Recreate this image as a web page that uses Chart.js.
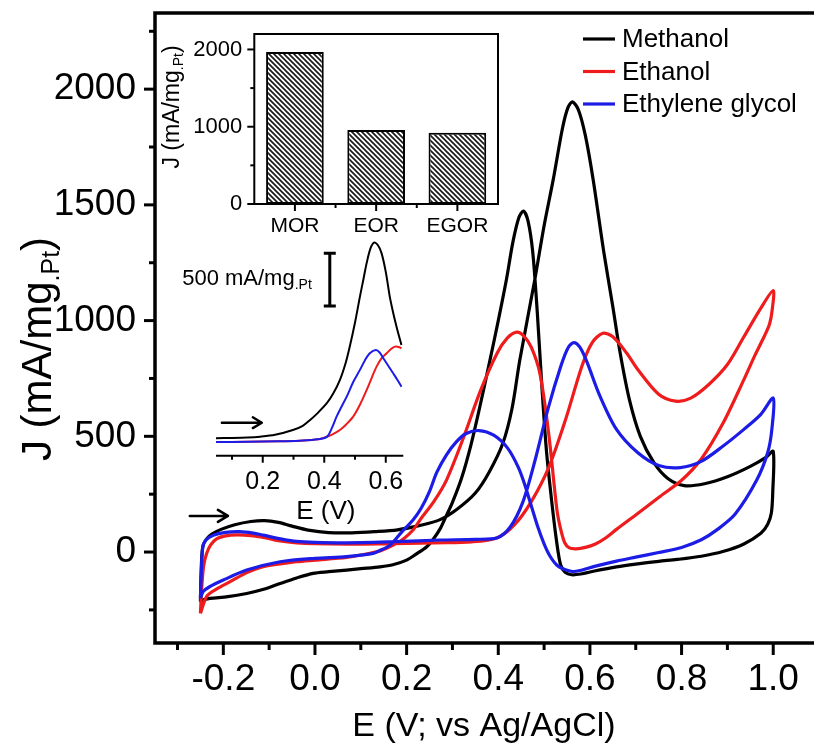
<!DOCTYPE html>
<html>
<head>
<meta charset="utf-8">
<script src="https://cdn.jsdelivr.net/npm/chart.js@4.4.0/dist/chart.umd.min.js"></script>
<style>
  html, body { margin: 0; padding: 0; background: #fff; }
  #wrap { position: relative; width: 814px; height: 754px; overflow: hidden; background: #fff; }
  canvas { position: absolute; }
  #main { left: 0; top: 0; }
  #bars { left: 150px; top: 20px; }
  #onset { left: 170px; top: 230px; }
</style>
</head>
<body>
<div id="wrap">
  <canvas id="main" width="814" height="754"></canvas>
  <canvas id="bars" width="360" height="230"></canvas>
  <canvas id="onset" width="250" height="300"></canvas>
</div>
<script>
// ---------- cyclic voltammograms (E in V vs Ag/AgCl, J in mA/mg Pt) ----------
const methanolE = [
  -0.250, -0.249, -0.247, -0.244, -0.236, -0.225, -0.205, -0.175, -0.140, -0.110, -0.080, -0.050, -0.015,
  0.030, 0.080, 0.130, 0.180, 0.229, 0.273, 0.310, 0.350, 0.380, 0.410, 0.430, 0.447, 0.480, 0.500, 0.520,
  0.540, 0.552, 0.562, 0.575, 0.590, 0.607, 0.630, 0.650, 0.666, 0.686, 0.710, 0.740, 0.770, 0.806, 0.850,
  0.900, 0.950, 0.985, 1.000,
  0.999, 0.996, 0.988, 0.973, 0.936, 0.890, 0.843, 0.790, 0.750, 0.700, 0.658, 0.610, 0.580, 0.560, 0.546,
  0.536, 0.527, 0.516, 0.505, 0.495, 0.485, 0.475, 0.465, 0.455, 0.445, 0.432, 0.418, 0.400, 0.382, 0.360,
  0.340, 0.320, 0.300, 0.285, 0.273, 0.258, 0.244, 0.220, 0.200, 0.170, 0.142, 0.100, 0.069, 0.030, -0.004,
  -0.040, -0.076, -0.110, -0.149, -0.190, -0.229, -0.245, -0.250
];
const methanolJ = [
  -215, -120, -20, 30, 58, 78, 98, 118, 132, 136, 128, 112, 95,
  84, 83, 88, 96, 115, 140, 185, 255, 345, 470, 620, 830, 1180, 1410, 1610,
  1830, 1920, 1945, 1910, 1800, 1610, 1300, 1060, 860, 660, 500, 385, 318, 287, 295,
  325, 370, 410, 435,
  260, 170, 120, 81, 35, 2, -18, -32, -40, -52, -64, -82, -95, -98, -88,
  -55, 50, 230, 440, 720, 1040, 1300, 1430, 1473, 1445, 1340, 1180, 1000, 830, 630,
  460, 320, 215, 150, 100, 55, 23, -10, -35, -55, -64, -72, -78, -85, -92,
  -112, -136, -160, -179, -193, -200, -207, -215
];

const ethanolE = [
  -0.250, -0.247, -0.243, -0.237, -0.228, -0.214, -0.195, -0.170, -0.140, -0.110, -0.076, -0.040, 0.000,
  0.070, 0.142, 0.200, 0.260, 0.342, 0.398, 0.435, 0.472, 0.510, 0.546, 0.583, 0.605, 0.628, 0.650, 0.680,
  0.704, 0.750, 0.787, 0.820, 0.860, 0.900, 0.936, 0.973, 1.000,
  0.998, 0.992, 0.980, 0.960, 0.936, 0.890, 0.843, 0.800, 0.750, 0.700, 0.658, 0.635, 0.612, 0.590, 0.570,
  0.555, 0.545, 0.536, 0.528, 0.510, 0.491, 0.472, 0.455, 0.440, 0.420, 0.398, 0.361, 0.324, 0.287, 0.260,
  0.229, 0.214, 0.195, 0.178, 0.142, 0.100, 0.069, 0.000, -0.040, -0.113, -0.150, -0.185, -0.215, -0.236, -0.250
];
const ethanolJ = [
  -265, -150, -60, -10, 30, 58, 70, 74, 71, 62, 48, 40, 36,
  34, 35, 37, 40, 44, 62, 117, 218, 365, 567, 806, 905, 945, 930, 860,
  790, 682, 652, 665, 725, 810, 930, 1054, 1130,
  1050, 985, 930, 850, 745, 555, 402, 310, 236, 160, 98, 62, 35, 20, 14,
  18, 40, 100, 182, 512, 770, 885, 935, 950, 925, 861, 696, 494, 311, 220,
  138, 95, 60, 38, 5, -13, -23, -35, -42, -63, -90, -128, -160, -190, -265
];

const glycolE = [
  -0.250, -0.248, -0.245, -0.238, -0.222, -0.195, -0.164, -0.135, -0.113, -0.070, -0.040, 0.000, 0.069,
  0.178, 0.273, 0.350, 0.398, 0.426, 0.454, 0.481, 0.509, 0.537, 0.553, 0.565, 0.578, 0.593, 0.621, 0.658,
  0.704, 0.750, 0.797, 0.843, 0.890, 0.936, 0.973, 1.000,
  0.997, 0.988, 0.964, 0.917, 0.880, 0.843, 0.800, 0.750, 0.700, 0.658, 0.610, 0.578, 0.562, 0.545, 0.528,
  0.512, 0.500, 0.486, 0.472, 0.458, 0.444, 0.420, 0.390, 0.358, 0.330, 0.308, 0.287, 0.266, 0.250, 0.232,
  0.214, 0.193, 0.164, 0.140, 0.127, 0.069, 0.000, -0.076, -0.149, -0.200, -0.230, -0.244, -0.250
];
const glycolJ = [
  -200, -90, 20, 52, 73, 85, 88, 82, 73, 55, 46, 42, 40,
  45, 52, 55, 62, 108, 218, 402, 622, 806, 885, 905, 885, 824, 678, 530,
  430, 374, 365, 392, 457, 530, 595, 665,
  530, 430, 311, 164, 100, 53, 20, -2, -22, -39, -62, -80, -84, -75, -57,
  -15, 35, 110, 200, 290, 365, 450, 505, 525, 512, 475, 420, 345, 262, 190,
  138, 95, 30, 5, -6, -20, -27, -42, -78, -121, -150, -171, -200
];

const seriesNames = ['Methanol', 'Ethanol', 'Ethylene glycol'];
const seriesColors = ['#000000', '#ee1c1c', '#1c1ce6'];

const xMajorTicks = [-0.2, 0.0, 0.2, 0.4, 0.6, 0.8, 1.0];
const xMinorTicks = [-0.3, -0.1, 0.1, 0.3, 0.5, 0.7, 0.9];
const yMajorTicks = [0, 500, 1000, 1500, 2000];
const yMinorTicks = [-250, 250, 750, 1250, 1750, 2250];

// scan-direction arrow
const scanArrowE = [-0.273, -0.19];
const scanArrowJ = 156;

// ---------- peak current inset ----------
const reactions = ['MOR', 'EOR', 'EGOR'];
const peakCurrent = [1966, 957, 922];
const barMajorTicks = [0, 1000, 2000];
const barMinorTicks = [500, 1500];

// ---------- onset (forward scan) inset ----------
const onsetMethanolE = [0.048, 0.100, 0.150, 0.191, 0.240, 0.298, 0.330, 0.354, 0.380, 0.409, 0.430, 0.451,
  0.470, 0.483, 0.500, 0.516, 0.528, 0.538, 0.550, 0.562, 0.574, 0.586, 0.600, 0.613, 0.625, 0.635, 0.645, 0.651];
const onsetMethanolJ = [106, 108, 112, 120, 138, 184, 224, 279, 349, 440, 534, 659,
  824, 975, 1204, 1449, 1624, 1769, 1904, 1961, 1939, 1864, 1684, 1449, 1284, 1164, 1054, 991];
const onsetEthanolE = [0.048, 0.150, 0.250, 0.320, 0.380, 0.409, 0.430, 0.451, 0.472, 0.494, 0.516, 0.538,
  0.555, 0.570, 0.586, 0.603, 0.618, 0.630, 0.642, 0.651];
const onsetEthanolJ = [70, 72, 76, 82, 95, 120, 148, 184, 239, 311, 424, 564,
  684, 785, 864, 912, 954, 975, 972, 959];
const onsetGlycolE = [0.048, 0.150, 0.250, 0.320, 0.380, 0.409, 0.425, 0.440, 0.456, 0.473, 0.495, 0.516,
  0.532, 0.548, 0.568, 0.580, 0.592, 0.608, 0.624, 0.638, 0.651];
const onsetGlycolJ = [70, 72, 76, 82, 95, 121, 204, 311, 404, 500, 644, 754,
  844, 912, 943, 919, 864, 794, 722, 659, 595];
const onsetXMajor = [0.2, 0.4, 0.6];
const onsetXMinor = [0.1, 0.3, 0.5];
const scaleBarE = 0.418;
const scaleBarJ = [1360, 1860];
const onsetArrowE = [0.067, 0.197];
const onsetArrowJ = 253;

// ---------- helpers ----------
const FONT = "'Liberation Sans', Arial, Helvetica, sans-serif";
const toPoints = (xs, ys) => xs.map((x, i) => ({ x: x, y: ys[i] }));

// text made of runs (normal + subscript), optionally rotated
function richText(ctx, runs, x, y, angle, align) {
  ctx.save();
  ctx.translate(x, y);
  ctx.rotate(angle || 0);
  ctx.textBaseline = 'alphabetic';
  ctx.textAlign = 'left';
  ctx.fillStyle = '#000';
  let total = 0;
  runs.forEach(r => { ctx.font = r.size + 'px ' + FONT; r.w = ctx.measureText(r.t).width; total += r.w; });
  let cx = align === 'center' ? -total / 2 : (align === 'right' ? -total : 0);
  runs.forEach(r => { ctx.font = r.size + 'px ' + FONT; ctx.fillText(r.t, cx, r.dy || 0); cx += r.w; });
  ctx.restore();
}

function tickMarks(ctx, chart, scale, values, len) {
  const ca = chart.chartArea;
  values.forEach(v => {
    const p = scale.getPixelForValue(v);
    ctx.beginPath();
    if (scale.isHorizontal()) { ctx.moveTo(p, ca.bottom); ctx.lineTo(p, ca.bottom + len); }
    else { ctx.moveTo(ca.left, p); ctx.lineTo(ca.left - len, p); }
    ctx.stroke();
  });
}

function arrow(ctx, x1, x2, y, head, lw) {
  ctx.save();
  ctx.strokeStyle = '#000';
  ctx.lineWidth = lw;
  ctx.lineCap = 'round';
  ctx.lineJoin = 'round';
  ctx.beginPath();
  ctx.moveTo(x1, y); ctx.lineTo(x2, y);
  ctx.moveTo(x2 - head, y - head * 0.6); ctx.lineTo(x2, y); ctx.lineTo(x2 - head, y + head * 0.6);
  ctx.stroke();
  ctx.restore();
}

function hatchPattern() {
  const s = 5;
  const c = document.createElement('canvas');
  c.width = s; c.height = s;
  const g = c.getContext('2d');
  g.fillStyle = '#ffffff';
  g.fillRect(0, 0, s, s);
  g.strokeStyle = '#1a1a1a';
  g.lineWidth = 1.7;
  [-s, 0, s].forEach(o => { g.beginPath(); g.moveTo(o - 1, -1); g.lineTo(o + s + 1, s + 1); g.stroke(); });
  return g.createPattern(c, 'repeat');
}

// fixed axis box sizes so the plot areas land where they should
const fixWidth = w => s => { s.width = w; s.paddingTop = 0; s.paddingBottom = 0; };
const fixHeight = h => s => { s.height = h; };

// ---------- main chart ----------
const mainDecor = {
  id: 'mainDecor',
  afterDraw(chart) {
    const ctx = chart.ctx, ca = chart.chartArea;
    const xs = chart.scales.x, ys = chart.scales.y;
    ctx.save();
    ctx.strokeStyle = '#000';
    ctx.lineWidth = 3.5;
    ctx.lineJoin = 'miter';
    ctx.beginPath();
    ctx.moveTo(ca.right + 3, ca.top);
    ctx.lineTo(ca.left, ca.top);
    ctx.lineTo(ca.left, ca.bottom);
    ctx.lineTo(ca.right + 3, ca.bottom);
    ctx.stroke();
    ctx.lineWidth = 3;
    tickMarks(ctx, chart, xs, xMajorTicks, 12);
    tickMarks(ctx, chart, xs, xMinorTicks, 7);
    tickMarks(ctx, chart, ys, yMajorTicks, 11);
    tickMarks(ctx, chart, ys, yMinorTicks, 6);

    // legend
    chart.data.datasets.forEach((ds, i) => {
      const y = 39 + i * 32.5;
      ctx.strokeStyle = ds.borderColor;
      ctx.lineWidth = 3.2;
      ctx.beginPath(); ctx.moveTo(583, y); ctx.lineTo(615, y); ctx.stroke();
      ctx.fillStyle = '#000';
      ctx.font = '26px ' + FONT;
      ctx.textBaseline = 'middle';
      ctx.textAlign = 'left';
      ctx.fillText(ds.label, 622, y + 1);
    });

    // axis titles
    richText(ctx, [{ t: 'E (V; vs Ag/AgCl)', size: 34 }], (ca.left + ca.right) / 2, 736, 0, 'center');
    richText(ctx, [{ t: 'J (mA/mg', size: 42 }, { t: '.Pt', size: 25, dy: 8 }, { t: ')', size: 42 }],
      51, 349, -Math.PI / 2, 'center');

    // scan-direction arrow
    arrow(ctx, xs.getPixelForValue(scanArrowE[0]), xs.getPixelForValue(scanArrowE[1]),
      ys.getPixelForValue(scanArrowJ), 10, 2.6);
    ctx.restore();
  }
};

const series = [
  { e: methanolE, j: methanolJ, order: 2 },
  { e: ethanolE, j: ethanolJ, order: 1 },
  { e: glycolE, j: glycolJ, order: 0 }
];

new Chart(document.getElementById('main'), {
  type: 'scatter',
  data: {
    datasets: series.map((s, i) => ({
      label: seriesNames[i],
      data: toPoints(s.e, s.j),
      borderColor: seriesColors[i],
      backgroundColor: seriesColors[i],
      borderWidth: 3.2,
      showLine: true,
      pointRadius: 0,
      tension: 0.3,
      order: s.order
    }))
  },
  options: {
    responsive: false,
    animation: false,
    events: [],
    layout: { padding: { left: 0, top: 13, right: 1, bottom: 0 } },
    plugins: { legend: { display: false }, tooltip: { enabled: false } },
    scales: {
      x: {
        type: 'linear', min: -0.3491, max: 1.0866,
        grid: { display: false, drawTicks: false }, border: { display: false },
        afterBuildTicks: s => { s.ticks = xMajorTicks.map(v => ({ value: v })); },
        afterFit: fixHeight(111),
        ticks: { font: { family: FONT, size: 37 }, color: '#000', padding: 15, maxRotation: 0, autoSkip: false,
          callback: v => Number(v).toFixed(1) }
      },
      y: {
        type: 'linear', min: -393, max: 2329,
        grid: { display: false, drawTicks: false }, border: { display: false },
        afterBuildTicks: s => { s.ticks = yMajorTicks.map(v => ({ value: v })); },
        afterFit: fixWidth(155),
        ticks: { font: { family: FONT, size: 37 }, color: '#000', padding: 19, autoSkip: false,
          callback: v => String(v) }
      }
    }
  },
  plugins: [mainDecor]
});

// ---------- bar inset ----------
const barDecor = {
  id: 'barDecor',
  afterDraw(chart) {
    const ctx = chart.ctx, ca = chart.chartArea;
    const xs = chart.scales.x, ys = chart.scales.y;
    ctx.save();
    ctx.strokeStyle = '#000';
    ctx.lineWidth = 2;
    ctx.strokeRect(ca.left, ca.top, ca.right - ca.left, ca.bottom - ca.top);
    tickMarks(ctx, chart, ys, barMajorTicks, 7);
    tickMarks(ctx, chart, ys, barMinorTicks, 4);
    // category centres and boundaries on the x axis
    const n = reactions.length;
    for (let i = 0; i < n; i++) {
      const p = xs.getPixelForValue(i);
      ctx.beginPath(); ctx.moveTo(p, ca.bottom); ctx.lineTo(p, ca.bottom + 7); ctx.stroke();
      if (i < n - 1) {
        const q = (p + xs.getPixelForValue(i + 1)) / 2;
        ctx.beginPath(); ctx.moveTo(q, ca.bottom); ctx.lineTo(q, ca.bottom + 4); ctx.stroke();
      }
    }
    richText(ctx, [{ t: 'J (mA/mg', size: 23 }, { t: '.Pt', size: 14, dy: 4 }, { t: ')', size: 23 }],
      29, 87, -Math.PI / 2, 'center');
    ctx.restore();
  }
};

new Chart(document.getElementById('bars'), {
  type: 'bar',
  data: {
    labels: reactions,
    datasets: [{
      data: peakCurrent,
      backgroundColor: hatchPattern(),
      borderColor: '#000',
      borderWidth: 2,
      borderSkipped: false,
      barPercentage: 0.71,
      categoryPercentage: 1
    }]
  },
  options: {
    responsive: false,
    animation: false,
    events: [],
    layout: { padding: { left: 0, top: 14, right: 12, bottom: 0 } },
    plugins: { legend: { display: false }, tooltip: { enabled: false } },
    scales: {
      x: {
        grid: { display: false, drawTicks: false }, border: { display: false },
        afterFit: fixHeight(46),
        ticks: { font: { family: FONT, size: 21 }, color: '#000', padding: 10 }
      },
      y: {
        min: 0, max: 2200,
        grid: { display: false, drawTicks: false }, border: { display: false },
        afterBuildTicks: s => { s.ticks = barMajorTicks.map(v => ({ value: v })); },
        afterFit: fixWidth(104.3),
        ticks: { font: { family: FONT, size: 22 }, color: '#000', padding: 12, callback: v => String(v) }
      }
    }
  },
  plugins: [barDecor]
});

// ---------- onset inset ----------
const onsetDecor = {
  id: 'onsetDecor',
  afterDraw(chart) {
    const ctx = chart.ctx, ca = chart.chartArea;
    const xs = chart.scales.x, ys = chart.scales.y;
    ctx.save();
    ctx.strokeStyle = '#000';
    ctx.lineWidth = 2;
    ctx.beginPath(); ctx.moveTo(ca.left, ca.bottom); ctx.lineTo(ca.right, ca.bottom); ctx.stroke();
    tickMarks(ctx, chart, xs, onsetXMajor, 7);
    tickMarks(ctx, chart, xs, onsetXMinor, 4);
    richText(ctx, [{ t: 'E (V)', size: 26 }], xs.getPixelForValue(0.405), 288.6, 0, 'center');

    // 500 mA/mg scale bar
    const bx = xs.getPixelForValue(scaleBarE);
    const b0 = ys.getPixelForValue(scaleBarJ[0]), b1 = ys.getPixelForValue(scaleBarJ[1]);
    ctx.lineWidth = 3;
    ctx.beginPath();
    ctx.moveTo(bx, b0); ctx.lineTo(bx, b1);
    ctx.moveTo(bx - 6, b0); ctx.lineTo(bx + 6, b0);
    ctx.moveTo(bx - 6, b1); ctx.lineTo(bx + 6, b1);
    ctx.stroke();
    richText(ctx, [{ t: '500 mA/mg', size: 22 }, { t: '.Pt', size: 14, dy: 4 }],
      bx - 18, (b0 + b1) / 2 + 5, 0, 'right');

    arrow(ctx, xs.getPixelForValue(onsetArrowE[0]), xs.getPixelForValue(onsetArrowE[1]),
      ys.getPixelForValue(onsetArrowJ), 9, 2.4);
    ctx.restore();
  }
};

const onsetSeries = [
  { e: onsetMethanolE, j: onsetMethanolJ, order: 2 },
  { e: onsetEthanolE, j: onsetEthanolJ, order: 1 },
  { e: onsetGlycolE, j: onsetGlycolJ, order: 0 }
];

new Chart(document.getElementById('onset'), {
  type: 'scatter',
  data: {
    datasets: onsetSeries.map((s, i) => ({
      label: seriesNames[i],
      data: toPoints(s.e, s.j),
      borderColor: seriesColors[i],
      borderWidth: 2,
      showLine: true,
      pointRadius: 0,
      tension: 0.3,
      order: s.order
    }))
  },
  options: {
    responsive: false,
    animation: false,
    events: [],
    layout: { padding: { left: 46, top: 9.6, right: 16.7, bottom: 0 } },
    plugins: { legend: { display: false }, tooltip: { enabled: false } },
    scales: {
      x: {
        type: 'linear', min: 0.048, max: 0.657,
        grid: { display: false, drawTicks: false }, border: { display: false },
        afterBuildTicks: s => { s.ticks = onsetXMajor.map(v => ({ value: v })); },
        afterFit: fixHeight(74.3),
        ticks: { font: { family: FONT, size: 25 }, color: '#000', padding: 11, maxRotation: 0, autoSkip: false,
          callback: v => Number(v).toFixed(1) }
      },
      y: { type: 'linear', display: false, min: -60, max: 1990 }
    }
  },
  plugins: [onsetDecor]
});
</script>
</body>
</html>
